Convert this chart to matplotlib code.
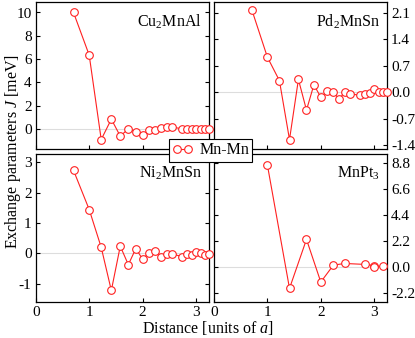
import matplotlib
matplotlib.use("Agg")
import matplotlib.pyplot as plt
from matplotlib.ticker import FormatStrFormatter

plt.rcParams['font.family'] = ['Liberation Serif', 'DejaVu Serif']
plt.rcParams['mathtext.fontset'] = 'custom'
plt.rcParams['mathtext.rm'] = 'Liberation Serif'
plt.rcParams['mathtext.it'] = 'Liberation Serif:italic'
plt.rcParams['axes.unicode_minus'] = False

# Mn-Mn distances (units of a) for fcc Mn sublattice (Heusler) and simple cubic (MnPt3)
dist_heusler = [0.707, 1.0, 1.225, 1.414, 1.581, 1.732, 1.871, 2.0, 2.121, 2.236,
                2.345, 2.449, 2.55, 2.739, 2.828, 2.915, 3.0, 3.082, 3.162, 3.24]
dist_mnpt3 = [1.0, 1.414, 1.732, 2.0, 2.236, 2.449, 2.828, 3.0, 3.0, 3.162]

j_cu2mnal = [10.0, 6.35, -0.89, 0.86, -0.6, 0.03, -0.24, -0.52, -0.11, -0.11,
             0.09, 0.19, 0.19, 0.02, 0.01, 0.01, 0.01, 0.01, 0.0, 0.0]
j_pd2mnsn = [2.19, 0.93, 0.31, -1.25, 0.34, -0.47, 0.2, -0.13, 0.03, 0.01,
             -0.19, 0.02, -0.04, -0.08, -0.05, -0.03, 0.09, 0.0, 0.0, 0.0]
j_ni2mnsn = [2.74, 1.45, 0.2, -1.22, 0.24, -0.37, 0.16, -0.19, 0.03, 0.09,
             -0.1, -0.02, -0.02, -0.1, -0.02, -0.04, 0.04, 0.0, -0.04, -0.01]
j_mnpt3 = [8.66, -1.84, 2.33, -1.3, 0.14, 0.28, 0.2, 0.1, -0.05, 0.08]

panels = [
    ("Cu$_2$MnAl", dist_heusler, j_cu2mnal, (-1.7, 10.9), [0, 2, 4, 6, 8, 10], None),
    ("Pd$_2$MnSn", dist_heusler, j_pd2mnsn, (-1.5, 2.39), [-1.4, -0.7, 0.0, 0.7, 1.4, 2.1], "%.1f"),
    ("Ni$_2$MnSn", dist_heusler, j_ni2mnsn, (-1.6, 3.28), [-1, 0, 1, 2, 3], None),
    ("MnPt$_3$", dist_mnpt3, j_mnpt3, (-3.0, 9.6), [-2.2, 0.0, 2.2, 4.4, 6.6, 8.8], "%.1f"),
]

W, H = 415, 338
fig = plt.figure(figsize=(W / 100, H / 100), dpi=100)
boxes = [(35.7, 2, 209, 149), (214, 2, 387, 149),
         (35.7, 154, 209, 302), (214, 154, 387, 302)]

red = '#ff2020'
lines = []
for i, ((name, x, y, ylim, yt, fmt), (x0, y0, x1, y1)) in enumerate(zip(panels, boxes)):
    ax = fig.add_axes([x0 / W, 1 - y1 / H, (x1 - x0) / W, (y1 - y0) / H])
    ax.axhline(0, color='#dddddd', lw=0.8, zorder=1)
    ln, = ax.plot(x, y, '-o', color=red, lw=0.8, ms=5.5, mfc='white',
                  mec=red, mew=0.8, clip_on=False, zorder=3, label='Mn-Mn')
    lines.append(ln)
    ax.set_xlim(0, 3.24)
    ax.set_ylim(*ylim)
    ax.set_xticks([0, 1, 2, 3])
    ax.set_yticks(yt)
    if fmt:
        ax.yaxis.set_major_formatter(FormatStrFormatter(fmt))
    ax.tick_params(direction='in', length=3, width=0.8, labelsize=11,
                   top=False, right=True, left=True, pad=3)
    if i % 2 == 1:
        ax.yaxis.tick_right()
        ax.tick_params(axis='y', left=True, direction='in')
    if i < 2:
        ax.set_xticklabels([])
    for s in ax.spines.values():
        s.set_linewidth(0.9)
    ax.text(0.96, 0.93, name, transform=ax.transAxes, ha='right', va='top',
            fontsize=11.5)

fig.text(0.5, 0.002, 'Distance [units of $a$]', ha='center', va='bottom', fontsize=11.5)
fig.text(0.008, 1 - 152 / H, 'Exchange parameters $J$ [meV]', rotation=90,
         ha='left', va='center', fontsize=11.5)

leg = fig.legend(handles=[lines[0]], loc='center', bbox_to_anchor=(210.5 / W, 1 - 150.5 / H),
                 fontsize=11.5, numpoints=2, handlelength=1.3, handletextpad=0.4,
                 borderpad=0.2, fancybox=False, framealpha=1, edgecolor='black',
                 borderaxespad=0)
leg.get_frame().set_linewidth(0.8)

fig.savefig('out.png', dpi=100)
